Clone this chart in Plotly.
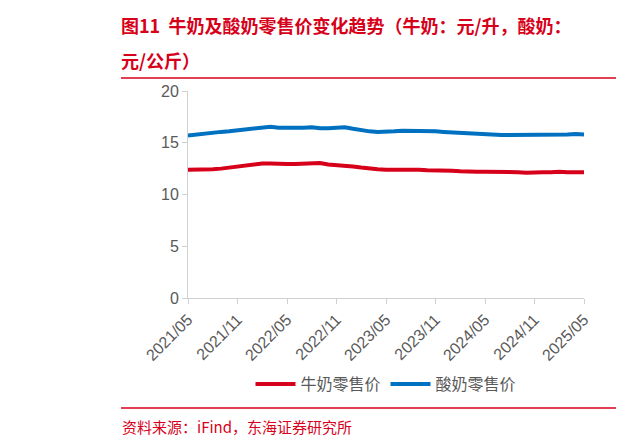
import plotly.graph_objects as go

months = [f"{y}/{m:02d}" for y in range(2021, 2026) for m in range(1, 13)]
months = months[months.index("2021/05"):months.index("2025/05") + 1]

milk = [12.4, 12.4, 12.45, 12.45, 12.5, 12.6, 12.7, 12.8, 12.9, 13.0, 13.0, 12.95,
        12.95, 12.95, 13.0, 13.05, 13.05, 12.9, 12.85, 12.8, 12.7, 12.6, 12.5, 12.45,
        12.4, 12.4, 12.45, 12.4, 12.4, 12.35, 12.35, 12.3, 12.3, 12.25, 12.2, 12.2,
        12.2, 12.2, 12.15, 12.15, 12.15, 12.1, 12.15, 12.15, 12.15, 12.2, 12.15, 12.15, 12.15]
yogurt = [15.7, 15.8, 15.9, 15.95, 16.05, 16.1, 16.2, 16.3, 16.4, 16.5, 16.55, 16.45,
          16.45, 16.4, 16.45, 16.5, 16.4, 16.4, 16.45, 16.5, 16.35, 16.2, 16.1, 16.05,
          16.05, 16.1, 16.15, 16.15, 16.1, 16.1, 16.1, 16.05, 16.0, 15.95, 15.9, 15.85,
          15.8, 15.75, 15.75, 15.75, 15.75, 15.75, 15.75, 15.75, 15.75, 15.8, 15.8, 15.85, 15.8]
tick_labels = ["2021/05", "2021/11", "2022/05", "2022/11", "2023/05", "2023/11", "2024/05", "2024/11", "2025/05"]

red = "#d7001a"
blue = "#0070c0"
fig = go.Figure()
fig.add_trace(go.Scatter(x=months, y=milk, name="牛奶零售价", mode="lines", line=dict(color=red, width=4)))
fig.add_trace(go.Scatter(x=months, y=yogurt, name="酸奶零售价", mode="lines", line=dict(color=blue, width=4)))

H = 207.0
W = 396.0
def px(x): return (x - 180) / W
def py(y): return (290 - y) / H

shapes = []
for yy in (70, 400):
    shapes.append(dict(type="line", xref="paper", yref="paper", x0=px(113), x1=px(608), y0=py(yy), y1=py(yy), line=dict(color=red, width=1.5)))
    shapes.append(dict(type="line", xref="paper", yref="paper", x0=px(626), x1=px(640), y0=py(yy), y1=py(yy), line=dict(color=red, width=1.5)))

font = "Noto Sans CJK SC"
fig.update_layout(
    width=634, height=440, margin=dict(l=180, r=58, t=83, b=150, autoexpand=False),
    plot_bgcolor="white", paper_bgcolor="white",
    font=dict(family=font, color="#595959", size=15),
    showlegend=True,
    legend=dict(orientation="h", x=0.5, xanchor="center", y=py(376), yanchor="middle",
                font=dict(size=16, color="#595959"), itemwidth=40),
    shapes=shapes,
    annotations=[
        dict(text="<b>图11  牛奶及酸奶零售价变化趋势（牛奶：元/升，酸奶：</b>", xref="paper", yref="paper",
             x=px(111), y=py(17), xanchor="left", yanchor="middle", showarrow=False,
             font=dict(size=18, color=red, family=font)),
        dict(text="<b>元/公斤）</b>", xref="paper", yref="paper",
             x=px(111), y=py(52), xanchor="left", yanchor="middle", showarrow=False,
             font=dict(size=18, color=red, family=font)),
        dict(text="资料来源：iFind，东海证券研究所", xref="paper", yref="paper",
             x=px(112), y=py(418), xanchor="left", yanchor="middle", showarrow=False,
             font=dict(size=15, color=red, family=font)),
    ],
    xaxis=dict(type="category", tickmode="array", tickvals=tick_labels, ticktext=tick_labels,
               tickangle=-45, showgrid=False, showline=True, linecolor="#d0d0d0", linewidth=1, automargin=False,
               ticks="outside", tickcolor="#d0d0d0", ticklen=5, tickfont=dict(size=16, family="Liberation Sans")),
    yaxis=dict(range=[0, 20], dtick=5, showgrid=False, showline=True, linecolor="#d0d0d0", automargin=False,
               ticks="outside", tickcolor="#d0d0d0", ticklen=5, tickfont=dict(size=16, family="Liberation Sans")),
)
fig.write_html("out.html")
